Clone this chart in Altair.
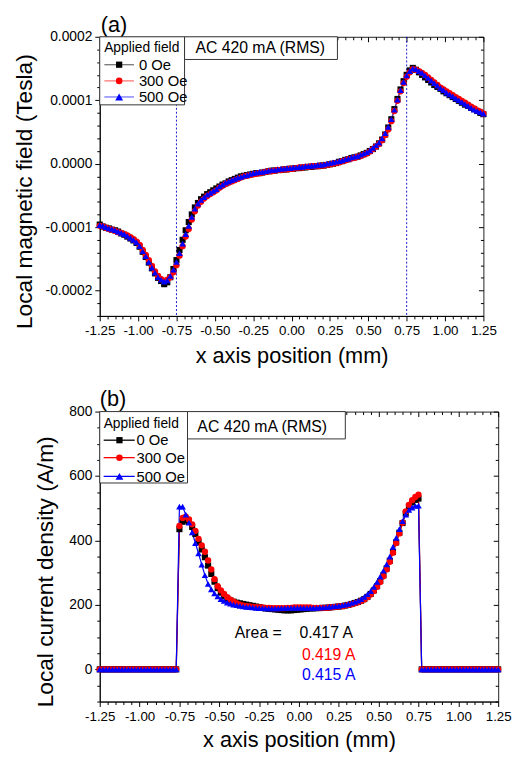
import altair as alt
import pandas as pd

# ---------------- data ----------------
X_MM = [
    -1.25, -1.23, -1.21, -1.19, -1.17, -1.15, -1.13, -1.11, -1.09, -1.07,
    -1.05, -1.03, -1.01, -0.99, -0.97, -0.95, -0.93, -0.91, -0.89, -0.87,
    -0.85, -0.83, -0.81, -0.79, -0.77, -0.75, -0.73, -0.71, -0.69, -0.67,
    -0.65, -0.63, -0.61, -0.59, -0.57, -0.55, -0.53, -0.51, -0.49, -0.47,
    -0.45, -0.43, -0.41, -0.39, -0.37, -0.35, -0.33, -0.31, -0.29, -0.27,
    -0.25, -0.23, -0.21, -0.19, -0.17, -0.15, -0.13, -0.11, -0.09, -0.07,
    -0.05, -0.03, -0.01,
    0.01, 0.03, 0.05, 0.07, 0.09, 0.11, 0.13, 0.15, 0.17, 0.19,
    0.21, 0.23, 0.25, 0.27, 0.29, 0.31, 0.33, 0.35, 0.37, 0.39,
    0.41, 0.43, 0.45, 0.47, 0.49, 0.51, 0.53, 0.55, 0.57, 0.59,
    0.61, 0.63, 0.65, 0.67, 0.69, 0.71, 0.73, 0.75, 0.77, 0.79,
    0.81, 0.83, 0.85, 0.87, 0.89, 0.91, 0.93, 0.95, 0.97, 0.99,
    1.01, 1.03, 1.05, 1.07, 1.09, 1.11, 1.13, 1.15, 1.17, 1.19,
    1.21, 1.23, 1.25,
]

FIELD_LABELS = ["0 Oe", "300 Oe", "500 Oe"]
SERIES_COLORS = ["#000000", "#ff0000", "#0000ff"]
SERIES_SHAPES = ["square", "circle", "triangle-up"]

# (a) local magnetic field, in units of 1e-4 Tesla
B_0OE_E4 = [
    -0.96, -0.99, -1.01, -1.02, -1.04, -1.05, -1.07, -1.10, -1.12, -1.15,
    -1.18, -1.21, -1.25, -1.31, -1.39, -1.47, -1.56, -1.65, -1.73, -1.80,
    -1.85, -1.90, -1.87, -1.79, -1.66, -1.52, -1.36, -1.20, -1.05, -0.92,
    -0.80, -0.69, -0.62, -0.56, -0.52, -0.48, -0.45, -0.42, -0.39, -0.36,
    -0.33, -0.31, -0.28, -0.26, -0.24, -0.22, -0.20, -0.19, -0.18, -0.17,
    -0.16, -0.15, -0.15, -0.14, -0.13, -0.12, -0.11, -0.11, -0.10, -0.10,
    -0.09, -0.09, -0.08,
    -0.08, -0.07, -0.07, -0.06, -0.06, -0.05, -0.05, -0.04, -0.04, -0.03,
    -0.03, -0.02, -0.01, 0.00, 0.01, 0.03, 0.04, 0.06, 0.07, 0.09,
    0.10, 0.11, 0.13, 0.15, 0.17, 0.20, 0.23, 0.27, 0.32, 0.38,
    0.46, 0.57, 0.70, 0.86, 1.02, 1.17, 1.30, 1.40, 1.47, 1.51,
    1.48, 1.44, 1.40, 1.36, 1.32, 1.28, 1.24, 1.21, 1.18, 1.14,
    1.11, 1.08, 1.05, 1.02, 0.99, 0.96, 0.93, 0.91, 0.88, 0.86,
    0.83, 0.80, 0.78,
]
B_300OE_E4 = [
    -0.98, -0.99, -1.01, -1.03, -1.04, -1.06, -1.08, -1.09, -1.11, -1.13,
    -1.16, -1.19, -1.23, -1.28, -1.36, -1.44, -1.52, -1.61, -1.70, -1.77,
    -1.82, -1.85, -1.83, -1.79, -1.71, -1.60, -1.45, -1.30, -1.15, -1.03,
    -0.88, -0.75, -0.66, -0.60, -0.55, -0.51, -0.48, -0.45, -0.42, -0.38,
    -0.35, -0.32, -0.30, -0.28, -0.26, -0.24, -0.22, -0.20, -0.19, -0.18,
    -0.17, -0.16, -0.15, -0.14, -0.13, -0.12, -0.12, -0.11, -0.10, -0.10,
    -0.09, -0.09, -0.08,
    -0.08, -0.07, -0.06, -0.06, -0.05, -0.05, -0.04, -0.04, -0.04, -0.03,
    -0.03, -0.02, -0.01, 0.00, 0.01, 0.02, 0.04, 0.05, 0.07, 0.08,
    0.09, 0.11, 0.12, 0.14, 0.16, 0.19, 0.23, 0.27, 0.31, 0.37,
    0.45, 0.54, 0.67, 0.83, 0.99, 1.14, 1.27, 1.37, 1.44, 1.49,
    1.48, 1.46, 1.43, 1.40, 1.36, 1.32, 1.28, 1.24, 1.20, 1.17,
    1.14, 1.11, 1.08, 1.05, 1.02, 0.99, 0.96, 0.93, 0.90, 0.87,
    0.84, 0.82, 0.79,
]
B_500OE_E4 = [
    -0.97, -0.98, -1.00, -1.02, -1.03, -1.05, -1.07, -1.09, -1.11, -1.14,
    -1.17, -1.20, -1.24, -1.30, -1.38, -1.46, -1.55, -1.64, -1.72, -1.79,
    -1.83, -1.86, -1.84, -1.77, -1.67, -1.55, -1.41, -1.26, -1.11, -0.98,
    -0.84, -0.71, -0.63, -0.57, -0.53, -0.49, -0.46, -0.43, -0.40, -0.36,
    -0.33, -0.30, -0.28, -0.26, -0.24, -0.22, -0.21, -0.19, -0.18, -0.16,
    -0.15, -0.14, -0.13, -0.13, -0.12, -0.11, -0.10, -0.10, -0.09, -0.08,
    -0.08, -0.07, -0.07,
    -0.06, -0.06, -0.05, -0.05, -0.04, -0.04, -0.03, -0.03, -0.02, -0.02,
    -0.01, 0.00, 0.01, 0.02, 0.03, 0.04, 0.05, 0.07, 0.08, 0.10,
    0.11, 0.12, 0.14, 0.16, 0.18, 0.21, 0.25, 0.29, 0.33, 0.40,
    0.48, 0.58, 0.70, 0.85, 1.01, 1.16, 1.29, 1.39, 1.46, 1.50,
    1.49, 1.46, 1.43, 1.39, 1.35, 1.31, 1.27, 1.23, 1.19, 1.16,
    1.12, 1.09, 1.06, 1.03, 1.00, 0.97, 0.94, 0.91, 0.88, 0.85,
    0.83, 0.81, 0.79,
]

# (b) local current density, A/m
J_0OE = [
    0, 0, 0, 0, 0, 0, 0, 0, 0, 0,
    0, 0, 0, 0, 0, 0, 0, 0, 0, 0,
    0, 0, 0, 0, 0, 435, 458, 463, 458, 442,
    420, 395, 372, 348, 322, 296, 272, 252, 238, 228,
    220, 214, 210, 207, 205, 203, 201, 199, 197, 195,
    193, 191, 189, 188, 187, 186, 185, 184, 183, 183,
    183, 184, 185,
    186, 187, 188, 189, 189, 190, 190, 191, 191, 192,
    193, 194, 195, 196, 198, 200, 203, 206, 209, 213,
    218, 225, 234, 245, 258, 274, 292, 313, 337, 364,
    394, 424, 454, 484, 505, 518, 526, 530, 0, 0,
    0, 0, 0, 0, 0, 0, 0, 0, 0, 0,
    0, 0, 0, 0, 0, 0, 0, 0, 0, 0,
    0, 0, 0,
]
J_300OE = [
    0, 0, 0, 0, 0, 0, 0, 0, 0, 0,
    0, 0, 0, 0, 0, 0, 0, 0, 0, 0,
    0, 0, 0, 0, 0, 445, 470, 474, 465, 450,
    430, 405, 385, 365, 338, 310, 280, 258, 245, 234,
    224, 216, 210, 205, 201, 198, 196, 195, 194, 193,
    192, 192, 191, 191, 190, 190, 190, 190, 190, 191,
    191, 192, 192,
    192, 192, 192, 192, 191, 191, 191, 191, 191, 192,
    193, 194, 195, 196, 198, 200, 202, 205, 208, 212,
    217, 224, 232, 243, 256, 271, 289, 310, 334, 362,
    392, 422, 455, 490, 510, 525, 535, 542, 0, 0,
    0, 0, 0, 0, 0, 0, 0, 0, 0, 0,
    0, 0, 0, 0, 0, 0, 0, 0, 0, 0,
    0, 0, 0,
]
J_500OE = [
    0, 0, 0, 0, 0, 0, 0, 0, 0, 0,
    0, 0, 0, 0, 0, 0, 0, 0, 0, 0,
    0, 0, 0, 0, 0, 505, 505, 480, 455, 425,
    392, 360, 325, 292, 265, 248, 236, 226, 218, 212,
    207, 204, 201, 199, 197, 195, 194, 193, 192, 191,
    190, 190, 189, 189, 189, 189, 189, 190, 190, 191,
    191, 191, 191,
    191, 191, 191, 191, 191, 191, 192, 192, 193, 194,
    195, 196, 197, 199, 201, 203, 206, 209, 213, 218,
    225, 233, 243, 256, 271, 288, 306, 326, 350, 380,
    408, 435, 460, 480, 495, 502, 507, 508, 0, 0,
    0, 0, 0, 0, 0, 0, 0, 0, 0, 0,
    0, 0, 0, 0, 0, 0, 0, 0, 0, 0,
    0, 0, 0,
]

AREA_PREFIX = "Area ="
AREAS_A = [0.417, 0.419, 0.415]
STRIP_EDGES_MM = [-0.75, 0.75]
CONDITION_TEXT = "AC 420 mA (RMS)"
LEGEND_TITLE = "Applied field"

X_MAJOR = [-1.25, -1.0, -0.75, -0.5, -0.25, 0.0, 0.25, 0.5, 0.75, 1.0, 1.25]
X_MINOR = [round(-1.25 + 0.05 * i, 2) for i in range(51) if i % 5]
B_MAJOR = [-0.0002, -0.0001, 0.0, 0.0001, 0.0002]
B_MINOR = [round(-0.00024 + 0.00002 * i, 7) for i in range(23) if (i - 2) % 5]
J_MAJOR = [0, 200, 400, 600, 800]
J_MINOR = [-100 + 50 * i for i in range(19) if (-100 + 50 * i) % 200]

FONT = "Liberation Sans"
MINUS = "\u2212"


def long_frame(series_lists, scale=1.0):
    rows = []
    for label, values in zip(FIELD_LABELS, series_lists):
        for x, v in zip(X_MM, values):
            rows.append({"x": x, "v": v * scale, "series": label})
    return pd.DataFrame(rows)


top_df = long_frame([B_0OE_E4, B_300OE_E4, B_500OE_E4], 1e-4)
bot_df = long_frame([J_0OE, J_300OE, J_500OE])

ONE = pd.DataFrame({"k": [0]})


def tick_axis(orient, values, size, offset=0):
    kw = dict(orient=orient, values=values, tickSize=size, labels=False,
              domain=False, title=None, grid=False, tickColor="#000", tickWidth=1,
              minExtent=0)
    if offset:
        kw["offset"] = offset
    return alt.Axis(**kw)


def panel(df, y_domain, y_major, y_minor, y_label_expr, y_title, w, h,
          tag, tag_xy, leg, box, line_opacity, x_title_pad, y_title_pad,
          extra=None, edges=True):
    xs = alt.Scale(domain=[-1.25, 1.25], nice=False, zero=False)
    ys = alt.Scale(domain=y_domain, nice=False, zero=False)
    color = alt.Color("series:N", scale=alt.Scale(domain=FIELD_LABELS, range=SERIES_COLORS), legend=None)
    shape = alt.Shape("series:N", scale=alt.Scale(domain=FIELD_LABELS, range=SERIES_SHAPES), legend=None)
    size = alt.Size("series:N", scale=alt.Scale(domain=FIELD_LABELS, range=[38, 44, 62]), legend=None)

    x_axis = alt.Axis(orient="bottom", values=X_MAJOR, tickSize=5, tickColor="#000",
                      domainColor="#000", labelColor="#000", labelFontSize=13.5,
                      labelPadding=3, labelFlush=False, labelOverlap=False, labelFont=FONT,
                      labelExpr="replace(format(datum.value, '.2f'), '" + MINUS + "', '-')",
                      title="x axis position (mm)", titleFont=FONT, titleFontSize=22,
                      titleFontWeight="normal", titleColor="#000", titlePadding=x_title_pad,
                      grid=False)
    y_axis = alt.Axis(orient="left", values=y_major, tickSize=5, tickColor="#000",
                      domainColor="#000", labelColor="#000", labelFontSize=14,
                      labelPadding=3, labelFlush=False, labelOverlap=False, labelFont=FONT,
                      labelExpr=y_label_expr, title=y_title, titleFont=FONT, titleFontSize=23,
                      titleFontWeight="normal", titleColor="#000", titlePadding=y_title_pad,
                      titleY=h / 2 + 15, grid=False)

    layers = []
    if edges:
        layers.append(alt.Chart(pd.DataFrame({"x": STRIP_EDGES_MM})).mark_rule(
            color="#1a1ad0", strokeDash=[2, 2], strokeWidth=1
        ).encode(x=alt.X("x:Q", scale=xs, axis=None)))

    layers.append(alt.Chart(df).mark_line(strokeWidth=1.2, opacity=line_opacity).encode(
        x=alt.X("x:Q", scale=xs, axis=x_axis),
        y=alt.Y("v:Q", scale=ys, axis=y_axis),
        color=color,
    ))
    layers.append(alt.Chart(df).mark_point(filled=True, opacity=1).encode(
        x=alt.X("x:Q", scale=xs, axis=None),
        y=alt.Y("v:Q", scale=ys, axis=None),
        color=color, shape=shape, size=size,
    ))

    dummy = pd.DataFrame({"x": [0.0, 0.0], "v": [y_domain[0] * 0.5 + y_domain[1] * 0.5] * 2})
    for xa, ya in [
        (tick_axis("bottom", X_MINOR, 3), tick_axis("left", y_minor, 3)),
        (tick_axis("top", X_MAJOR, 5, -5), tick_axis("right", y_major, 5, -5)),
        (tick_axis("top", X_MINOR, 3, -3), tick_axis("right", y_minor, 3, -3)),
    ]:
        layers.append(alt.Chart(dummy).mark_point(opacity=0).encode(
            x=alt.X("x:Q", scale=xs, axis=xa), y=alt.Y("v:Q", scale=ys, axis=ya)))

    # panel tag
    layers.append(alt.Chart(ONE).mark_text(align="left", baseline="alphabetic", fontSize=22,
                                           font=FONT, color="#000").encode(
        x=alt.value(tag_xy[0]), y=alt.value(tag_xy[1]), text=alt.value(tag)))
    # legend box
    layers.append(alt.Chart(ONE).mark_rect(fill="white", stroke="#333", strokeWidth=1).encode(
        x=alt.value(0), x2=alt.value(leg["w"]), y=alt.value(0), y2=alt.value(leg["h"])))
    layers.append(alt.Chart(ONE).mark_text(align="left", baseline="alphabetic", fontSize=14,
                                           font=FONT, color="#000").encode(
        x=alt.value(leg["tx"]), y=alt.value(leg["ty"]), text=alt.value(LEGEND_TITLE)))
    for i, (lab, col, shp) in enumerate(zip(FIELD_LABELS, SERIES_COLORS, SERIES_SHAPES)):
        yc = leg["rows"][i]
        layers.append(alt.Chart(ONE).mark_rule(color=col, strokeWidth=1.3,
                                               opacity=leg["line_opacity"]).encode(
            x=alt.value(leg["l0"]), x2=alt.value(leg["l1"]), y=alt.value(yc)))
        layers.append(alt.Chart(ONE).mark_point(filled=True, color=col, opacity=1).encode(
            x=alt.value(leg["mx"]), y=alt.value(yc), shape=alt.value(shp),
            size=alt.value([40, 44, 64][i])))
        layers.append(alt.Chart(ONE).mark_text(align="left", baseline="alphabetic", fontSize=15,
                                               font=FONT, color="#000").encode(
            x=alt.value(leg["lx"]), y=alt.value(yc + 5.3), text=alt.value(lab)))
    # condition box
    layers.append(alt.Chart(ONE).mark_rect(fill="white", stroke="#333", strokeWidth=1).encode(
        x=alt.value(box["x0"]), x2=alt.value(box["x1"]), y=alt.value(0), y2=alt.value(box["h"])))
    layers.append(alt.Chart(ONE).mark_text(align="left", baseline="alphabetic", fontSize=16,
                                           font=FONT, color="#000").encode(
        x=alt.value(box["tx"]), y=alt.value(box["ty"]), text=alt.value(CONDITION_TEXT)))
    if extra:
        layers.extend(extra)

    return alt.layer(*layers).properties(width=w, height=h).resolve_axis(
        x="independent", y="independent")


# area annotation (panel b), positions relative to the plot area
area_layers = [alt.Chart(ONE).mark_text(align="left", baseline="alphabetic", fontSize=16,
                                        font=FONT, color="#000").encode(
    x=alt.value(137), y=alt.value(230), text=alt.value(AREA_PREFIX))]
for i, (a, col) in enumerate(zip(AREAS_A, SERIES_COLORS)):
    area_layers.append(alt.Chart(ONE).mark_text(align="left", baseline="alphabetic", fontSize=16,
                                                font=FONT, color=col).encode(
        x=alt.value([202.5, 205, 205][i]), y=alt.value([230, 251.5, 272.5][i]),
        text=alt.value(f"{a:.3f} A")))

top = panel(
    top_df, [-0.00024, 0.0002], B_MAJOR, B_MINOR,
    "replace(format(datum.value, '.4f'), '" + MINUS + "', '-')",
    "Local magnetic field (Tesla)", 389, 283, "(a)", (1, -5),
    dict(w=86, h=69, tx=4.5, ty=15.6, rows=[28.3, 44.7, 61.0], l0=4.7, l1=34.7,
         mx=19.7, lx=39.7, line_opacity=0.55),
    dict(x0=86, x1=241, h=23, tx=97, ty=16.8),
    0.5, 9, 9,
)
bottom = panel(
    bot_df, [-100, 800], J_MAJOR, J_MINOR,
    "format(datum.value, 'd')",
    "Local current density (A/m)", 404, 294, "(b)", (0, -5.6),
    dict(w=89, h=72.4, tx=4, ty=16.7, rows=[29, 46.7, 65.7], l0=4, l1=35.5,
         mx=20, lx=37.3, line_opacity=1),
    dict(x0=89, x1=249, h=27.7, tx=99, ty=20.7),
    1, 7, 12, extra=area_layers, edges=False,
)

chart = alt.vconcat(top, bottom, spacing=97, bounds="flush").properties(
    padding={"left": 5, "right": 0, "top": 0, "bottom": 0}
).configure_view(stroke="#222", strokeWidth=1).configure_text(font=FONT)

chart.save("out.html", embed_options={"renderer": "svg", "actions": False})
